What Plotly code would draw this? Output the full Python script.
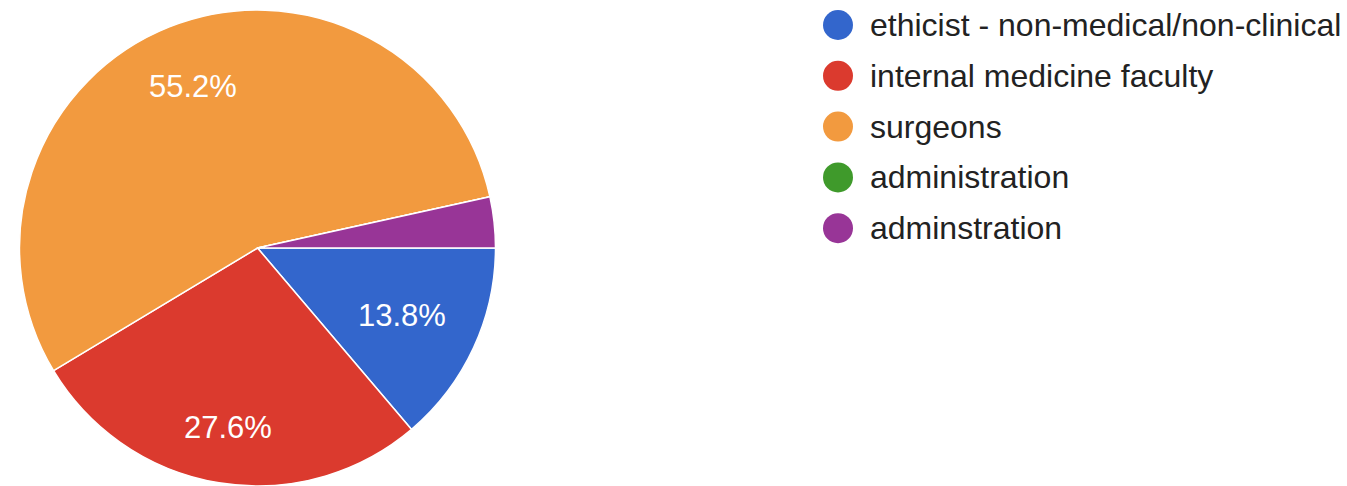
import math
import plotly.graph_objects as go

# Survey responses by respondent group
labels = [
    "ethicist - non-medical/non-clinical",
    "internal medicine faculty",
    "surgeons",
    "administration",
    "adminstration",
]
counts = [4, 8, 16, 0, 1]
colors = ["#3366cc", "#db3a2e", "#f29a3f", "#3f9a2b", "#983597"]

W, H = 1347, 486
FONT = "Liberation Sans, Arial, sans-serif"

# pie placement in pixels (from the top-left corner)
CX, CY, R = 257.5, 248.0, 238.0
dom_x = [(CX - R) / W, (CX + R) / W]
dom_y = [(H - CY - R) / H, (H - CY + R) / H]

fig = go.Figure()
fig.add_trace(go.Pie(
    labels=labels,
    values=counts,
    sort=False,
    direction="clockwise",
    rotation=90,
    marker=dict(colors=colors, line=dict(color="white", width=1.5)),
    textinfo="none",
    showlegend=False,
    hoverinfo="label+percent",
    domain=dict(x=dom_x, y=dom_y),
))

# Percentage labels: the outer corner of each label box sits on a fixed radius
total = sum(counts)
HALF_W, HALF_H, R_TEXT, MIN_SHARE = 44.0, 12.0, 0.86 * R, 0.05
annotations = []
start = 0.0
for val in counts:
    share = val / total
    mid = (start + share / 2) * 2 * math.pi  # clockwise from 3 o'clock
    start += share
    if share < MIN_SHARE:
        continue
    ux, uy = math.cos(mid), math.sin(mid)  # uy points down
    sx = HALF_W if ux >= 0 else -HALF_W
    sy = HALF_H if uy >= 0 else -HALF_H
    # |r*u + s| = R_TEXT  ->  r^2 + 2r(u.s) + |s|^2 - R_TEXT^2 = 0
    b = ux * sx + uy * sy
    c = sx * sx + sy * sy - R_TEXT * R_TEXT
    r = -b + math.sqrt(b * b - c)
    px, py = CX + r * ux, CY + r * uy
    annotations.append(dict(
        text=f"{share * 100:.1f}%", xref="paper", yref="paper",
        x=px / W, y=1 - py / H, xanchor="center", yanchor="middle",
        showarrow=False, font=dict(family=FONT, size=31, color="white"),
    ))

# Legend with round swatches
x_dot, x_text, y0, dy, rad = 838, 868, 25, 50.8, 15
shapes = []
for i, (lab, col) in enumerate(zip(labels, colors)):
    yc = y0 + i * dy
    shapes.append(dict(
        type="circle", xref="paper", yref="paper",
        x0=(x_dot - rad) / W, x1=(x_dot + rad) / W,
        y0=1 - (yc + rad) / H, y1=1 - (yc - rad) / H,
        fillcolor=col, line=dict(width=0),
    ))
    annotations.append(dict(
        text=lab, xref="paper", yref="paper",
        x=x_text / W, y=1 - yc / H, xanchor="left", yanchor="middle",
        showarrow=False, font=dict(family=FONT, size=32, color="#222222"),
    ))

fig.update_layout(
    width=W, height=H,
    margin=dict(l=0, r=0, t=0, b=0),
    paper_bgcolor="white",
    plot_bgcolor="white",
    shapes=shapes,
    annotations=annotations,
)

fig.write_html("out.html")
